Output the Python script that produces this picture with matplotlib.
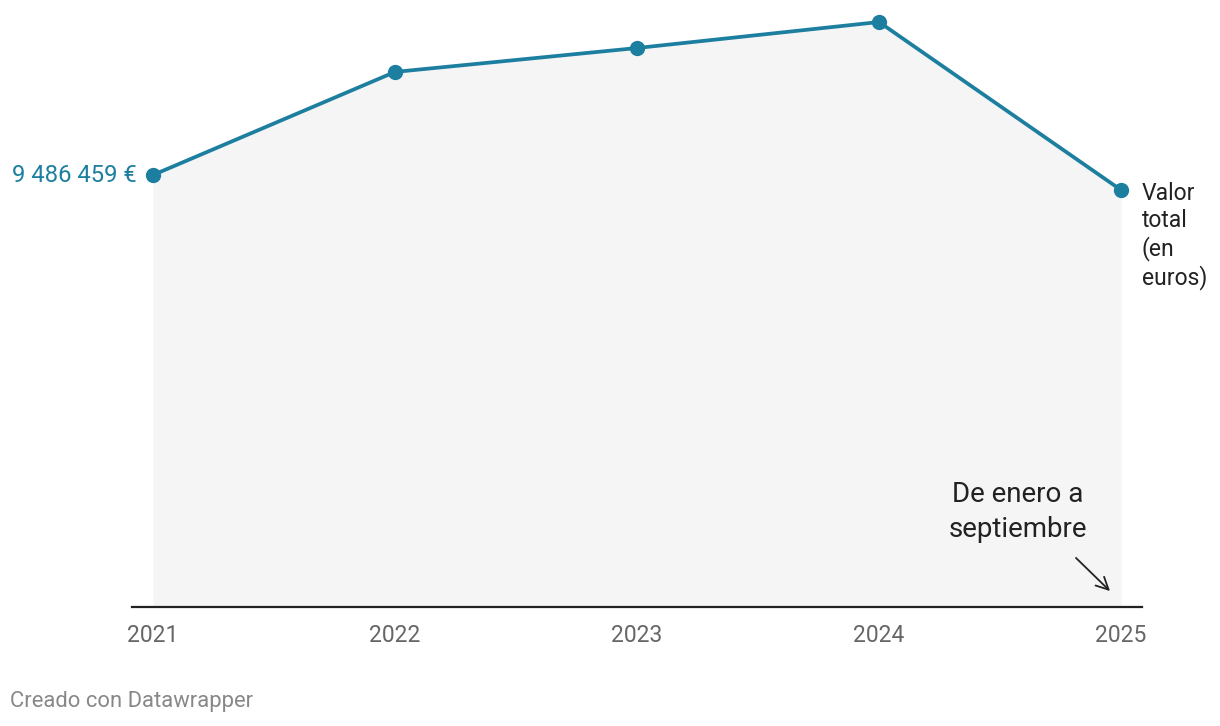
import matplotlib
matplotlib.use("Agg")
import matplotlib.pyplot as plt

years = [2021, 2022, 2023, 2024, 2025]
values = [9486459, 11750000, 12275000, 12846000, 9157000]
first_label = "9 486 459 €"
series_label = "Valor\ntotal\n(en\neuros)"
note = "De enero a\nseptiembre"
credit = "Creado con Datawrapper"

plt.rcParams['font.family'] = ['Roboto', 'DejaVu Sans']

W, H = 1220, 726
fig = plt.figure(figsize=(W/100, H/100), dpi=100)
left, right = 132/W, 1142/W
bottom = 1 - 607/H
top = 1 - 10/H
ax = fig.add_axes([left, bottom, right-left, top-bottom])

line_color = '#1d7fa0'
per_px = values[0] / (607 - 175)
ax.set_ylim(0, (607 - 10) * per_px)
ax.set_xlim(2021 - 21/242, 2025 + 21/242)

ax.fill_between(years, values, 0, color='#f5f5f5', lw=0, zorder=1)
ax.plot(years, values, color=line_color, lw=2.7, marker='o', ms=10, zorder=3, clip_on=False)

for s in ['top', 'right', 'left']:
    ax.spines[s].set_visible(False)
ax.spines['bottom'].set_linewidth(1.6)
ax.spines['bottom'].set_color('#222222')
ax.set_yticks([])
ax.set_xticks(years)
ax.set_xticklabels([str(y) for y in years], fontsize=16.5, color='#666666')
ax.tick_params(axis='x', length=0, pad=12.5)

ax.annotate(first_label, (years[0], values[0]), xytext=(-12, 0), textcoords='offset points',
            ha='right', va='center', fontsize=17.2, color=line_color)
ax.annotate(series_label, (years[-1], values[-1]), xytext=(15, 6), textcoords='offset points',
            ha='left', va='top', fontsize=16.5, color='#222222', linespacing=1.22)

fig.text(1018/W, 1 - 512/H, note, ha='center', va='center', fontsize=20, color='#222222', linespacing=1.4)
ax.annotate('', xy=(1112/W, 1 - 593/H), xycoords='figure fraction',
            xytext=(1074/W, 1 - 556/H), textcoords='figure fraction',
            arrowprops=dict(arrowstyle='->', color='#222222', lw=1.3, mutation_scale=22))

fig.text(10/W, 1 - 701/H, credit, ha='left', va='center', fontsize=15.8, color='#888888')

fig.savefig('out.png', dpi=100)
